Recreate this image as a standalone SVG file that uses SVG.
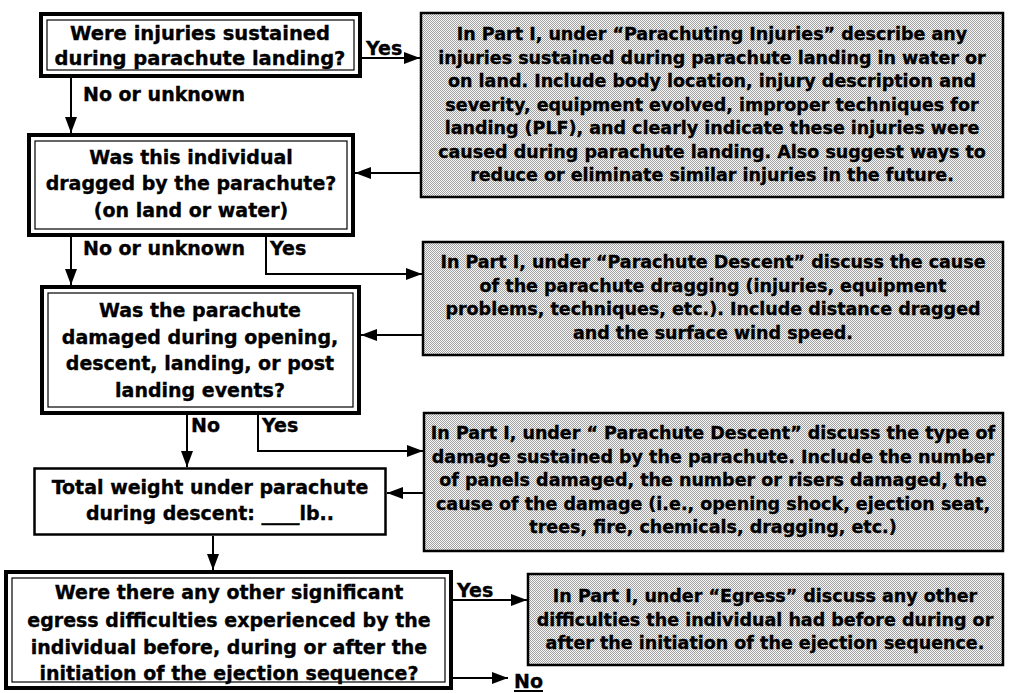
<svg xmlns="http://www.w3.org/2000/svg" width="1009" height="693" viewBox="0 0 1009 693" xml:space="preserve">
<defs>
<pattern id="dots" width="2" height="2" patternUnits="userSpaceOnUse">
<rect width="2" height="2" fill="#f8f8f8"/>
<rect width="1" height="1" fill="#a0a0a0"/>
<rect x="1" y="1" width="1" height="1" fill="#a0a0a0"/>
</pattern>
<marker id="ah" markerUnits="userSpaceOnUse" markerWidth="16" markerHeight="12" refX="16" refY="6" orient="auto">
<path d="M0,0 L16,6 L0,12 z" fill="#000"/>
</marker>
</defs>
<style>
text{font-family:"DejaVu Sans","Liberation Sans",sans-serif;font-weight:bold;fill:#000;stroke:#000;stroke-width:0.35}
.q{font-size:19px;text-anchor:middle}
.n{font-size:17.5px;text-anchor:middle}
.lbl{font-size:19px}
.outer{fill:#fff;stroke:#000;stroke-width:4}
.inner{fill:none;stroke:#000;stroke-width:1.2}
.single{fill:#fff;stroke:#000;stroke-width:2.5}
.note{fill:url(#dots);stroke:#000;stroke-width:2.5}
.conn path{fill:none;stroke:#000;stroke-width:2;marker-end:url(#ah)}
.ul{stroke:#000;stroke-width:2}
</style>

<g id="conn" class="conn">
<path d="M360,58 H420"/>
<path d="M71,78 V133"/>
<path d="M420,173 H355"/>
<path d="M71,237 V285"/>
<path d="M266,237 V274 H422"/>
<path d="M422,335 H361"/>
<path d="M187,415 V467"/>
<path d="M258,415 V451 H423"/>
<path d="M423,493 H387"/>
<path d="M213,536 V570"/>
<path d="M453,600 H527"/>
<path d="M453,678 H508"/>
</g>

<g id="labels">
<text class="lbl" x="366" y="55">Yes</text>
<text class="lbl" x="83" y="101">No or unknown</text>
<text class="lbl" x="83" y="255">No or unknown</text>
<text class="lbl" x="270" y="255">Yes</text>
<text class="lbl" x="191" y="432">No</text>
<text class="lbl" x="262" y="432">Yes</text>
<text class="lbl" x="457" y="597">Yes</text>
<text class="lbl" x="514" y="688">No</text>
<line class="ul" x1="514" y1="691" x2="543" y2="691"/>
</g>

<g id="q1">
<rect class="outer" x="41" y="14" width="319" height="62"/>
<rect class="inner" x="47" y="20" width="307" height="50"/>
<text class="q" x="200" y="40" style="font-size:19.5px">Were injuries sustained</text>
<text class="q" x="200" y="65" style="font-size:19.5px">during parachute landing?</text>
</g>

<g id="n1">
<rect class="note" x="421" y="13" width="582" height="184"/>
<text class="n" x="712" y="40">In Part I, under “Parachuting Injuries” describe any</text>
<text class="n" x="712" y="63.5">injuries sustained during parachute landing in water or</text>
<text class="n" x="712" y="87">on land.  Include body location, injury description and</text>
<text class="n" x="712" y="110.5">severity, equipment evolved, improper techniques for</text>
<text class="n" x="712" y="134">landing (PLF), and clearly indicate these injuries were</text>
<text class="n" x="712" y="157.5">caused during parachute landing.  Also suggest ways to</text>
<text class="n" x="712" y="181">reduce or eliminate similar injuries in the future.</text>
</g>

<g id="q2">
<rect class="outer" x="29" y="135" width="324" height="100"/>
<rect class="inner" x="35" y="141" width="312" height="88"/>
<text class="q" x="191" y="164">Was this individual</text>
<text class="q" x="191" y="190">dragged by the parachute?</text>
<text class="q" x="191" y="217">(on land or water)</text>
</g>

<g id="n2">
<rect class="note" x="423" y="242" width="580" height="113"/>
<text class="n" x="713" y="268">In Part I, under “Parachute Descent” discuss the cause</text>
<text class="n" x="713" y="291.5">of the parachute dragging (injuries, equipment</text>
<text class="n" x="713" y="315">problems, techniques, etc.).  Include distance dragged</text>
<text class="n" x="713" y="338.5">and the surface wind speed.</text>
</g>

<g id="q3">
<rect class="outer" x="42" y="287" width="317" height="126"/>
<rect class="inner" x="48" y="293" width="305" height="114"/>
<text class="q" x="200" y="317">Was the parachute</text>
<text class="q" x="200" y="344">damaged during opening,</text>
<text class="q" x="200" y="370">descent, landing, or post</text>
<text class="q" x="200" y="397">landing events?</text>
</g>

<g id="n3">
<rect class="note" x="424" y="413" width="579" height="138"/>
<text class="n" x="713" y="439">In Part I, under “ Parachute Descent” discuss the type of</text>
<text class="n" x="713" y="462.5">damage sustained by the parachute.  Include the number</text>
<text class="n" x="713" y="486">of panels damaged, the number or risers damaged, the</text>
<text class="n" x="713" y="509.5">cause of the damage (i.e., opening shock, ejection seat,</text>
<text class="n" x="713" y="533">trees, fire, chemicals, dragging, etc.)</text>
</g>

<g id="q4">
<rect class="single" x="34.5" y="468.5" width="351" height="66"/>
<text class="q" x="210" y="494">Total weight under parachute</text>
<text class="q" x="210" y="520">during descent: ____lb..</text>
</g>

<g id="q5">
<rect class="outer" x="6" y="572" width="445" height="116"/>
<rect class="inner" x="12" y="578" width="433" height="104"/>
<text class="q" x="229" y="599">Were there any other significant</text>
<text class="q" x="229" y="627">egress difficulties experienced by the</text>
<text class="q" x="229" y="654">individual before, during or after the</text>
<text class="q" x="229" y="680">initiation of the ejection sequence?</text>
</g>

<g id="n4">
<rect class="note" x="528" y="574" width="475" height="91"/>
<text class="n" x="765" y="602">In Part I, under “Egress” discuss any other</text>
<text class="n" x="765" y="625.5">difficulties the individual had before during or</text>
<text class="n" x="765" y="649">after the initiation of the ejection sequence.</text>
</g>
</svg>
